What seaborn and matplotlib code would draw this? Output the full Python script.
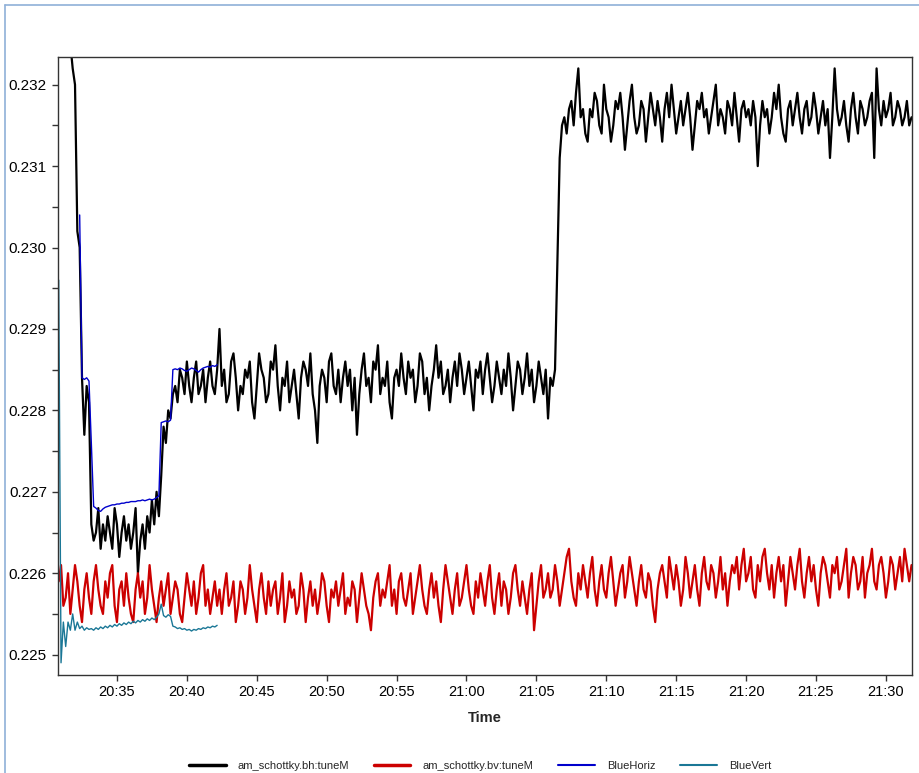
import pandas as pd
import matplotlib
matplotlib.use("Agg")
import matplotlib.pyplot as plt
import matplotlib.dates as mdates
from matplotlib.ticker import MultipleLocator, FormatStrFormatter
from matplotlib.lines import Line2D
import seaborn as sns

# Sample times: every 10 s from 20:30:50
start_time = "2020-01-01 20:30:50"

# am_schottky.bh:tuneM
bh_tune = [
    0.2336, 0.2334, 0.2331, 0.2329, 0.2327, 0.2325, 0.2322,
    0.2320, 0.2302, 0.2300, 0.2284, 0.2277, 0.2283, 0.2281,
    0.2266, 0.2264, 0.2265, 0.2268, 0.2263, 0.2266, 0.2264, 0.2267, 0.2265, 0.2263,
    0.2268, 0.2266, 0.2262, 0.2265, 0.2267, 0.2264, 0.2266, 0.2263, 0.2265, 0.2268,
    0.2260, 0.2264, 0.2266, 0.2263, 0.2267, 0.2265, 0.2269, 0.2266, 0.2270, 0.2267,
    0.2272, 0.2278, 0.2276, 0.2280, 0.2279, 0.2282, 0.2283, 0.2281, 0.2285, 0.2284,
    0.2282, 0.2286, 0.2283, 0.2281, 0.2284, 0.2286, 0.2282, 0.2283, 0.2285, 0.2281,
    0.2284, 0.2286, 0.2283, 0.2282, 0.2285, 0.2290,
    0.2283, 0.2285, 0.2281, 0.2282, 0.2286, 0.2287, 0.2284, 0.2280, 0.2283, 0.2282,
    0.2285, 0.2284, 0.2286, 0.2281, 0.2279, 0.2283, 0.2287, 0.2285, 0.2284, 0.2281,
    0.2282, 0.2286, 0.2285, 0.2288, 0.2283, 0.2280, 0.2284, 0.2283, 0.2286, 0.2281,
    0.2283, 0.2285, 0.2282, 0.2279, 0.2284, 0.2286, 0.2285, 0.2283, 0.2287, 0.2282,
    0.2280, 0.2276, 0.2283, 0.2285, 0.2284, 0.2281, 0.2286, 0.2287, 0.2283, 0.2282,
    0.2285, 0.2281, 0.2284, 0.2286, 0.2283, 0.2285, 0.2280, 0.2284, 0.2277, 0.2282,
    0.2285, 0.2287, 0.2283, 0.2284, 0.2281, 0.2286, 0.2285, 0.2288, 0.2282, 0.2284,
    0.2283, 0.2286, 0.2281, 0.2279, 0.2284, 0.2285, 0.2283, 0.2287, 0.2284, 0.2282,
    0.2286, 0.2284, 0.2285, 0.2281, 0.2283, 0.2287, 0.2286, 0.2282, 0.2284, 0.2280,
    0.2283, 0.2285, 0.2288, 0.2284, 0.2286, 0.2282, 0.2283, 0.2285, 0.2281, 0.2284,
    0.2286, 0.2283, 0.2287, 0.2285, 0.2282, 0.2284, 0.2286, 0.2283, 0.2280, 0.2285,
    0.2284, 0.2286, 0.2282, 0.2285, 0.2287, 0.2284, 0.2281, 0.2283, 0.2286, 0.2284,
    0.2282, 0.2285, 0.2283, 0.2287, 0.2284, 0.2280, 0.2283, 0.2286, 0.2285, 0.2282,
    0.2284, 0.2287, 0.2283, 0.2285, 0.2281, 0.2283, 0.2286, 0.2284, 0.2282, 0.2285,
    0.2279, 0.2284, 0.2283,
    0.2285, 0.2298, 0.2311,
    0.2315, 0.2316, 0.2314, 0.2317, 0.2318, 0.2315, 0.2319, 0.2322, 0.2316, 0.2317,
    0.2314, 0.2313, 0.2317, 0.2316, 0.2319, 0.2318, 0.2315, 0.2314, 0.2320, 0.2317,
    0.2316, 0.2313, 0.2315, 0.2318, 0.2317, 0.2319, 0.2316, 0.2312, 0.2315, 0.2318,
    0.2320, 0.2316, 0.2314, 0.2315, 0.2318, 0.2317, 0.2313, 0.2316, 0.2319, 0.2317,
    0.2315, 0.2318, 0.2316, 0.2313, 0.2317, 0.2319, 0.2316, 0.2320, 0.2317, 0.2314,
    0.2316, 0.2318, 0.2315, 0.2317, 0.2319, 0.2316, 0.2312, 0.2315, 0.2318, 0.2317,
    0.2319, 0.2316, 0.2317, 0.2314, 0.2316, 0.2318, 0.2320, 0.2315, 0.2317, 0.2316,
    0.2314, 0.2318, 0.2317, 0.2315, 0.2319, 0.2316, 0.2313, 0.2317, 0.2318, 0.2316,
    0.2317, 0.2315, 0.2318, 0.2316, 0.2310, 0.2315, 0.2318, 0.2316, 0.2317, 0.2314,
    0.2316, 0.2319, 0.2317, 0.2320, 0.2316, 0.2314, 0.2313, 0.2317, 0.2318, 0.2315,
    0.2317, 0.2319, 0.2316, 0.2314, 0.2317, 0.2318, 0.2315, 0.2316, 0.2319, 0.2317,
    0.2314, 0.2316, 0.2318, 0.2315, 0.2317, 0.2311, 0.2316, 0.2322, 0.2317, 0.2315,
    0.2316, 0.2318, 0.2315, 0.2313, 0.2317, 0.2319, 0.2316, 0.2314, 0.2318, 0.2317,
    0.2315, 0.2316, 0.2318, 0.2319, 0.2311, 0.2322, 0.2317, 0.2315, 0.2318, 0.2316,
    0.2317, 0.2319, 0.2315, 0.2316, 0.2318, 0.2317, 0.2315, 0.2316, 0.2318, 0.2315,
    0.2316,
]

# am_schottky.bv:tuneM
bv_tune = [
    0.2259, 0.2261, 0.2256, 0.2257, 0.2260, 0.2255, 0.2258, 0.2261, 0.2259, 0.2256,
    0.2254, 0.2258, 0.2260, 0.2257, 0.2255, 0.2259, 0.2261, 0.2258, 0.2256, 0.2255,
    0.2259, 0.2257, 0.2260, 0.2261, 0.2256, 0.2254, 0.2258, 0.2259, 0.2256, 0.2260,
    0.2257, 0.2255, 0.2254, 0.2258, 0.2260, 0.2257, 0.2259, 0.2255, 0.2257, 0.2261,
    0.2258, 0.2256, 0.2254, 0.2257, 0.2259, 0.2256, 0.2258, 0.2260, 0.2255, 0.2257,
    0.2259, 0.2258, 0.2255, 0.2254, 0.2257, 0.2260, 0.2258, 0.2256, 0.2259, 0.2255,
    0.2257, 0.2260, 0.2261, 0.2256, 0.2258, 0.2255, 0.2257, 0.2259, 0.2256, 0.2258,
    0.2255, 0.2258, 0.2260, 0.2256, 0.2257, 0.2259, 0.2254, 0.2256, 0.2259, 0.2258,
    0.2255, 0.2257, 0.2261, 0.2258, 0.2256, 0.2254, 0.2258, 0.2260, 0.2257, 0.2255,
    0.2259, 0.2256, 0.2258, 0.2259, 0.2255, 0.2257, 0.2260, 0.2254, 0.2256, 0.2259,
    0.2257, 0.2258, 0.2255, 0.2256, 0.2260, 0.2258, 0.2254, 0.2257, 0.2259, 0.2256,
    0.2258, 0.2255, 0.2257, 0.2260, 0.2259, 0.2256, 0.2254, 0.2258, 0.2257, 0.2259,
    0.2256, 0.2258, 0.2260, 0.2255, 0.2257, 0.2256, 0.2259, 0.2258, 0.2254, 0.2257,
    0.2260, 0.2258, 0.2256, 0.2255, 0.2253, 0.2257, 0.2259, 0.2260, 0.2256, 0.2258,
    0.2257, 0.2259, 0.2261, 0.2256, 0.2258, 0.2255, 0.2259, 0.2260, 0.2257, 0.2256,
    0.2258, 0.2260, 0.2255, 0.2257, 0.2259, 0.2261, 0.2258, 0.2256, 0.2255, 0.2258,
    0.2260, 0.2257, 0.2259, 0.2256, 0.2254, 0.2258, 0.2261, 0.2259, 0.2257, 0.2255,
    0.2258, 0.2260, 0.2256, 0.2257, 0.2259, 0.2261, 0.2258, 0.2256, 0.2255, 0.2259,
    0.2257, 0.2260, 0.2258, 0.2256, 0.2259, 0.2261, 0.2257, 0.2255, 0.2258, 0.2260,
    0.2256, 0.2259, 0.2258, 0.2255, 0.2257, 0.2260, 0.2261, 0.2258, 0.2256, 0.2259,
    0.2257, 0.2255, 0.2258, 0.2260, 0.2253, 0.2256, 0.2259, 0.2261, 0.2257, 0.2258,
    0.2260, 0.2257, 0.2258, 0.2261, 0.2259, 0.2256, 0.2258, 0.2260, 0.2262, 0.2263,
    0.2259, 0.2257, 0.2256, 0.2260, 0.2258, 0.2261, 0.2259, 0.2257, 0.2260, 0.2262,
    0.2258, 0.2256, 0.2259, 0.2261, 0.2258, 0.2257, 0.2260, 0.2262, 0.2259, 0.2256,
    0.2258, 0.2260, 0.2261, 0.2257, 0.2259, 0.2262, 0.2260, 0.2258, 0.2256, 0.2259,
    0.2261, 0.2258, 0.2257, 0.2260, 0.2259, 0.2256, 0.2254, 0.2258, 0.2260, 0.2261,
    0.2259, 0.2257, 0.2262, 0.2260, 0.2258, 0.2261, 0.2259, 0.2256, 0.2258, 0.2262,
    0.2260, 0.2257, 0.2259, 0.2261, 0.2258, 0.2256, 0.2260, 0.2262, 0.2259, 0.2258,
    0.2261, 0.2260, 0.2257, 0.2259, 0.2262, 0.2258, 0.2260, 0.2256, 0.2259, 0.2261,
    0.2260, 0.2262, 0.2258, 0.2261, 0.2263, 0.2259, 0.2260, 0.2262, 0.2258, 0.2257,
    0.2261, 0.2259, 0.2262, 0.2263, 0.2260, 0.2258, 0.2261, 0.2257, 0.2260, 0.2262,
    0.2259, 0.2261, 0.2256, 0.2259, 0.2262, 0.2260, 0.2258, 0.2261, 0.2263, 0.2259,
    0.2257, 0.2260, 0.2262, 0.2259, 0.2261, 0.2258, 0.2256, 0.2260, 0.2262, 0.2261,
    0.2259, 0.2257, 0.2261, 0.2260, 0.2262, 0.2258, 0.2259, 0.2261, 0.2263, 0.2257,
    0.2260, 0.2262, 0.2261, 0.2258, 0.2259, 0.2262, 0.2257, 0.2260, 0.2261, 0.2263,
    0.2259, 0.2258, 0.2261, 0.2262, 0.2260, 0.2257, 0.2259, 0.2262, 0.2261, 0.2258,
    0.2260, 0.2262, 0.2259, 0.2263, 0.2261, 0.2259, 0.2261,
]

# BlueHoriz (starts at sample 9)
blue_horiz_start = 9
blue_horiz = [
    0.2304, 0.2284, 0.22838, 0.22840, 0.22836, 0.2276, 0.22682, 0.22680, 0.22677,
    0.22676, 0.22679, 0.22681, 0.22682, 0.22683, 0.22684, 0.22684, 0.22685,
    0.22685, 0.22686, 0.22686, 0.22687, 0.22687, 0.22688, 0.22688, 0.22688, 0.22689,
    0.22689, 0.22690, 0.22689, 0.22690, 0.22691, 0.22690, 0.22691, 0.22693, 0.22695,
    0.22785, 0.22786, 0.22787, 0.22786, 0.22788,
    0.22850,
    0.22851, 0.22850, 0.22852, 0.22851, 0.22849, 0.22848, 0.22850, 0.22852, 0.22851,
    0.22849, 0.22847, 0.22850, 0.22852, 0.22853, 0.22854, 0.22853, 0.22855, 0.22854,
    0.22856,
]

# BlueVert (starts at sample 0)
blue_vert = [
    0.2296, 0.2249, 0.2254, 0.2251, 0.2254, 0.2253, 0.2255, 0.2253, 0.2254, 0.22532,
    0.22535, 0.22530, 0.22533, 0.22531,
    0.22532, 0.22530, 0.22533, 0.22531, 0.22534, 0.22532, 0.22535, 0.22533, 0.22536, 0.22534,
    0.22537, 0.22535, 0.22538, 0.22536, 0.22539, 0.22537, 0.22540, 0.22538, 0.22541, 0.22539,
    0.22542, 0.22540, 0.22543, 0.22541, 0.22544, 0.22542, 0.22545, 0.22543, 0.22546, 0.22550,
    0.22562, 0.22548, 0.22546, 0.22549, 0.22547,
    0.22535, 0.22534, 0.22532, 0.22533, 0.22531, 0.22532, 0.22530, 0.22531, 0.22529, 0.22531,
    0.22530, 0.22532, 0.22531, 0.22533, 0.22532, 0.22534, 0.22533, 0.22535, 0.22534, 0.22536,
]

times = pd.date_range(start_time, periods=len(bh_tune), freq="10s")
n = min(len(bh_tune), len(bv_tune))

sns.set_style("white")
plt.rcParams["font.family"] = ["Liberation Sans", "DejaVu Sans"]

fig = plt.figure(figsize=(9.2, 7.73), dpi=100)
ax = fig.add_axes([58 / 920, 1 - 675 / 773, (912 - 58) / 920, (675 - 57) / 773])

sns.lineplot(x=times, y=bh_tune, ax=ax, color="black", linewidth=1.6)
sns.lineplot(x=times[:n], y=bv_tune[:n], ax=ax, color="#cc0000", linewidth=1.6)
sns.lineplot(x=times[blue_horiz_start:blue_horiz_start + len(blue_horiz)], y=blue_horiz,
             ax=ax, color="#0000cc", linewidth=1.0)
sns.lineplot(x=times[:len(blue_vert)], y=blue_vert, ax=ax, color="#1a7796", linewidth=1.0)

ax.set_xlim(pd.Timestamp("2020-01-01 20:30:47"), pd.Timestamp("2020-01-01 21:31:52"))
ax.set_ylim(0.22475, 0.23234)

ax.yaxis.set_major_locator(MultipleLocator(0.001))
ax.yaxis.set_minor_locator(MultipleLocator(0.0005))
ax.yaxis.set_major_formatter(FormatStrFormatter("%.3f"))
ax.xaxis.set_major_locator(mdates.MinuteLocator(byminute=range(0, 60, 5)))
ax.xaxis.set_major_formatter(mdates.DateFormatter("%H:%M"))

ax.tick_params(axis="both", which="both", direction="out", length=4, width=1, color="#333333",
               left=True, bottom=True, labelcolor="black")
ax.tick_params(axis="x", labelsize=10.5, pad=3)
ax.tick_params(axis="y", labelsize=11, pad=4)
for sp in ax.spines.values():
    sp.set_color("#333333")
    sp.set_linewidth(1)

ax.set_xlabel("Time", fontsize=10.5, fontweight="bold", labelpad=9)
ax.set_ylabel("")
if ax.get_legend():
    ax.get_legend().remove()

handles = [
    Line2D([], [], color="black", linewidth=2.5),
    Line2D([], [], color="#cc0000", linewidth=2.5),
    Line2D([], [], color="#0000cc", linewidth=1.5),
    Line2D([], [], color="#1a7796", linewidth=1.5),
]
labels = ["am_schottky.bh:tuneM", "am_schottky.bv:tuneM", "BlueHoriz", "BlueVert"]
fig.legend(handles, labels, loc="center", bbox_to_anchor=(480 / 920, 1 - 766 / 773), ncol=4,
           frameon=False, fontsize=8, handlelength=3.3, columnspacing=2.2, handletextpad=1.1)

# light blue frame at top and left
frame_color = "#8fb0d8"
fig.add_artist(Line2D([5 / 920, 1], [1 - 5 / 773, 1 - 5 / 773], color=frame_color, linewidth=1.2))
fig.add_artist(Line2D([5 / 920, 5 / 920], [0, 1 - 5 / 773], color=frame_color, linewidth=1.2))

fig.savefig("out.png", dpi=100)
